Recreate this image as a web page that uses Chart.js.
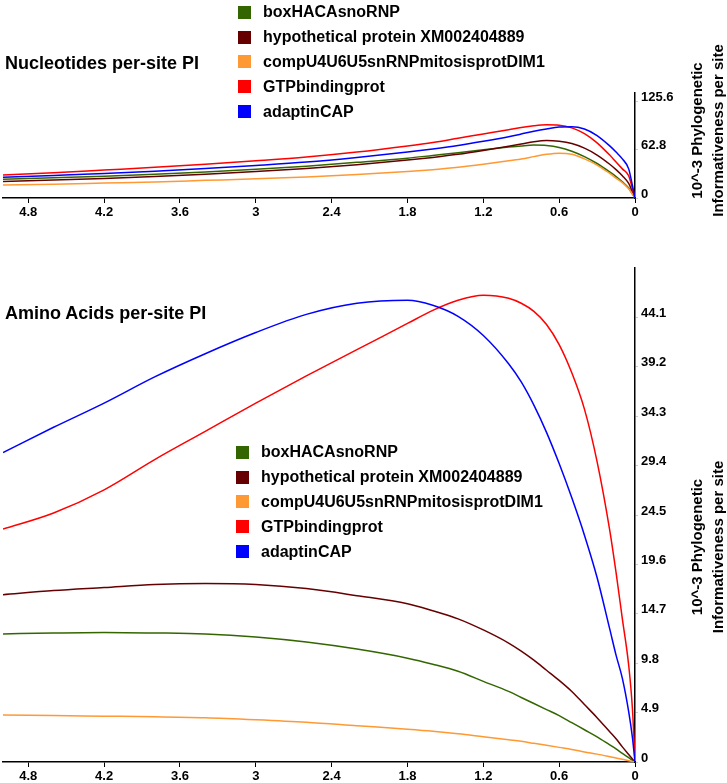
<!DOCTYPE html>
<html>
<head>
<meta charset="utf-8">
<script src="https://cdn.jsdelivr.net/npm/chart.js@4.4.1/dist/chart.umd.min.js"></script>
<style>
  body { margin: 0; background: #fff; font-family: "Liberation Sans", Arial, sans-serif; }
  #wrap { position: relative; width: 727px; height: 783px; overflow: hidden; }
  canvas { position: absolute; left: 0; }
  .panel-title { position: absolute; left: 5px; font-weight: bold; font-size: 18px; color: #000; line-height: 20px; }
  .legend { position: absolute; font-weight: bold; font-size: 16px; color: #000; }
  .legend .row { display: flex; align-items: center; height: 24.8px; white-space: nowrap; }
  .legend .sw { width: 13px; height: 13px; margin-right: 12px; }
</style>
</head>
<body>
<div id="wrap">
  <canvas id="ntChart"></canvas>
  <canvas id="aaChart"></canvas>
  <div class="panel-title" style="top:53px">Nucleotides per-site PI</div>
  <div class="panel-title" style="top:303px">Amino Acids per-site PI</div>
  <div class="legend" id="ntLegend" style="left:238px; top:0px"></div>
  <div class="legend" id="aaLegend" style="left:236px; top:440px"></div>
</div>
<script>
// series names / colours
const seriesNames = ["boxHACAsnoRNP", "hypothetical protein XM002404889", "compU4U6U5snRNPmitosisprotDIM1", "GTPbindingprot", "adaptinCAP"];
const seriesColors = ["#336600", "#660000", "#ff9933", "#ff0000", "#0000ff"];

// x positions (shared by both panels, axis runs from 5 down to 0)
const xValues = [5.0, 4.6, 4.2, 3.8, 3.4, 3.0, 2.6, 2.2, 1.8, 1.6, 1.4, 1.2, 1.0, 0.9, 0.8, 0.7, 0.6, 0.5, 0.4, 0.3, 0.2, 0.15, 0.1, 0.05, 0.02, 0];
const xTicks = [4.8, 4.2, 3.6, 3, 2.4, 1.8, 1.2, 0.6, 0];

// nucleotides panel
const ntBox = [24.5, 26.5, 28.5, 31, 34, 37.5, 41.5, 46.5, 52, 55.5, 59, 63, 66.5, 68, 69, 68.5, 66, 61, 54, 45, 34, 28, 21, 13, 5, 0];
const ntHyp = [21.5, 23.5, 25.5, 28, 31, 34.5, 38.5, 43.5, 49.5, 53, 57, 62, 67.5, 70.5, 73.5, 75, 74, 71, 65, 56, 44, 37, 29, 19, 8, 0];
const ntComp = [17, 18, 19.5, 21, 23, 25, 27.5, 30.5, 34.5, 37, 40, 44, 48.5, 51, 54, 57, 58.5, 57, 51, 43, 32, 26, 20, 12, 5, 0];
const ntGtp = [30, 33, 36.5, 40, 44, 48.5, 53.5, 60, 68, 72.5, 78, 83.5, 89, 92, 94.3, 95.5, 95, 91.5, 84, 72, 56, 47, 38, 29, 12, 0];
const ntAdapt = [27, 29.5, 32, 35, 38.5, 42.5, 47, 53, 60, 64, 68.5, 74, 80, 83.5, 87, 90, 92.5, 93, 90, 81.5, 68, 60, 51, 38, 16, 0];
const ntTicks = [0, 62.8, 125.6];
const ntMax = 137;

// amino acids panel
const aaBox = [12.7, 12.8, 12.85, 12.8, 12.7, 12.4, 11.9, 11.2, 10.3, 9.7, 9.0, 8.0, 7.0, 6.4, 5.8, 5.2, 4.6, 3.9, 3.2, 2.5, 1.7, 1.3, 0.85, 0.43, 0.17, 0];
const aaHyp = [16.6, 17.0, 17.3, 17.6, 17.7, 17.6, 17.2, 16.5, 15.7, 15.0, 14.2, 13.1, 11.8, 11.0, 10.1, 9.1, 8.1, 7.0, 5.7, 4.4, 3.0, 2.3, 1.5, 0.75, 0.3, 0];
const aaComp = [4.65, 4.6, 4.55, 4.5, 4.4, 4.2, 3.95, 3.6, 3.25, 3.05, 2.8, 2.5, 2.2, 2.05, 1.85, 1.65, 1.45, 1.25, 1.0, 0.78, 0.53, 0.4, 0.27, 0.13, 0.05, 0];
const aaGtp = [23.1, 24.7, 27, 30, 32.8, 35.6, 38.3, 40.9, 43.5, 44.8, 45.8, 46.3, 46.0, 45.5, 44.7, 43.4, 41.4, 38.6, 35.0, 29.8, 23.0, 18.8, 14.2, 9.6, 5.2, 0];
const aaAdapt = [30.7, 33.2, 35.6, 38.2, 40.5, 42.6, 44.4, 45.5, 45.8, 45.3, 44.2, 42.3, 39.5, 37.7, 35.4, 32.7, 29.6, 26.2, 22.5, 18.3, 13.2, 10.6, 8.3, 5.0, 2.4, 0];
const aaTicks = [0, 4.9, 9.8, 14.7, 19.6, 24.5, 29.4, 34.3, 39.2, 44.1];
const aaMax = 49;

const yTitleLines = ["10^-3 Phylogenetic", "Informativeness per site"];
const tickFont = { family: "'Liberation Sans', Arial, sans-serif", size: 13, weight: "bold" };

function buildLegend(id) {
  const box = document.getElementById(id);
  seriesNames.forEach((name, i) => {
    const row = document.createElement("div");
    row.className = "row";
    row.innerHTML = '<span class="sw"></span><span></span>';
    row.querySelector(".sw").style.background = seriesColors[i];
    row.lastChild.textContent = name;
    box.append(row);
  });
}

// draws the two-line rotated axis title right of the y axis
const yTitlePlugin = {
  id: "yTitle",
  afterDraw(chart, args, opts) {
    const { ctx, chartArea } = chart;
    const cy = (chartArea.top + chartArea.bottom) / 2 + (opts.shift || 0);
    ctx.save();
    ctx.fillStyle = "#000";
    ctx.font = "bold 15px 'Liberation Sans', Arial, sans-serif";
    ctx.textAlign = "center";
    ctx.textBaseline = "middle";
    yTitleLines.forEach((line, i) => {
      ctx.save();
      ctx.translate(chartArea.right + 63 + i * 21, cy);
      ctx.rotate(-Math.PI / 2);
      ctx.fillText(line, 0, 0);
      ctx.restore();
    });
    ctx.restore();
  },
};

function makeChart(id, top, height, seriesList, yTicks, yMax, padTop, xHeight, shift) {
  const canvas = document.getElementById(id);
  canvas.style.top = top + "px";
  canvas.style.width = "727px";
  canvas.style.height = height + "px";
  canvas.width = 727;
  canvas.height = height;

  const datasets = seriesList.map((vals, i) => ({
    label: seriesNames[i],
    data: vals.map((v, j) => ({ x: xValues[j], y: v })),
    borderColor: seriesColors[i],
    backgroundColor: seriesColors[i],
    borderWidth: 1.5,
    pointRadius: 0,
    cubicInterpolationMode: "monotone",
    fill: false,
  }));
  // later series draw on top in the reference
  datasets.forEach((d, i) => (d.order = seriesList.length - i));

  return new Chart(canvas, {
    type: "line",
    data: { datasets },
    plugins: [yTitlePlugin],
    options: {
      responsive: false,
      animation: false,
      layout: { padding: { top: padTop, left: 3, right: 0, bottom: 0 } },
      plugins: {
        legend: { display: false },
        tooltip: { enabled: false },
        yTitle: { shift },
      },
      scales: {
        x: {
          type: "linear",
          min: 0,
          max: 5.0,
          reverse: true,
          afterBuildTicks: (s) => { s.ticks = xTicks.map((v) => ({ value: v })); },
          afterFit: (s) => { s.height = xHeight; },
          border: { color: "#000", width: 1.5 },
          grid: { drawOnChartArea: false, tickLength: 5, tickColor: "#000" },
          ticks: { color: "#000", font: tickFont, padding: 2, maxRotation: 0, callback: (v) => String(v) },
        },
        y: {
          type: "linear",
          position: "right",
          min: 0,
          max: yMax,
          afterBuildTicks: (s) => { s.ticks = yTicks.map((v) => ({ value: v })); },
          afterFit: (s) => { s.width = 92; },
          border: { color: "#000", width: 1.5 },
          grid: { drawOnChartArea: false, tickLength: 3, tickColor: "#ccc" },
          ticks: { color: "#000", font: tickFont, padding: 3, labelOffset: -4, callback: (v) => (v === 0 ? "0" : v.toFixed(1)) },
        },
      },
    },
  });
}

buildLegend("ntLegend");
buildLegend("aaLegend");

makeChart("ntChart", 0, 240, [ntBox, ntHyp, ntComp, ntGtp, ntAdapt], ntTicks, ntMax, 93, 42, -15);
makeChart("aaChart", 240, 543, [aaBox, aaHyp, aaComp, aaGtp, aaAdapt], aaTicks, aaMax, 28, 21, 32);
</script>
</body>
</html>
